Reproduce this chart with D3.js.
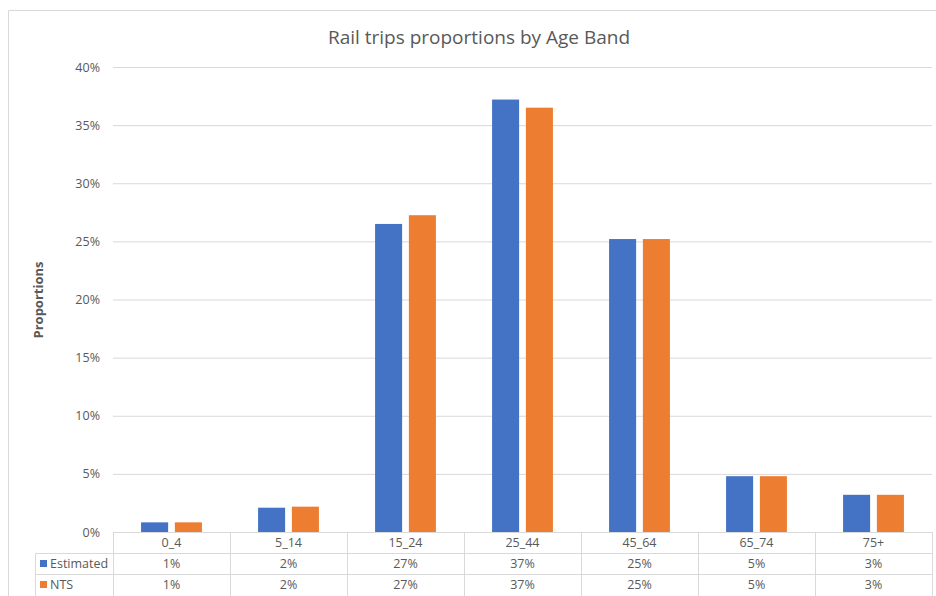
<!DOCTYPE html>
<html lang="en">
<head>
	<meta charset="UTF-8">
	<title>Rail trips proportions by Age Band</title>
	<style>
		body { margin: 0; background: #fff; }
		text { font-family: "Open Sans", "Noto Sans", sans-serif; fill: #595959; }
	</style>
</head>
<body>
	<svg id="chart" width="936" height="596"></svg>
<script src="https://cdn.jsdelivr.net/npm/d3@7"></script>
<script>
	// data
	let bands = ["0_4", "5_14", "15_24", "25_44", "45_64", "65_74", "75+"];
	let seriesNames = ["Estimated", "NTS"];
	let estimated = [0.0083, 0.0209, 0.265, 0.372, 0.252, 0.048, 0.032];
	let nts = [0.0083, 0.0218, 0.2725, 0.365, 0.252, 0.048, 0.032];
	let colours = ["#4472c4", "#ed7d31"];
	let yTicks = [0, 0.05, 0.1, 0.15, 0.2, 0.25, 0.3, 0.35, 0.4];

	let svg = d3.select("#chart");
	let plotLeft = 113, plotRight = 932, plotTop = 67, plotBottom = 532;
	let fs = 12.5;

	// outer frame of the chart area
	svg.append("path")
		.attr("d", "M8.5,600 V10.5 H940")
		.attr("fill", "none")
		.attr("stroke", "#d9d9d9");

	let x = d3.scaleBand().domain(bands).range([plotLeft, plotRight]).paddingInner(0.48).paddingOuter(0.24);
	let xs = d3.scaleBand().domain(seriesNames).range([0, x.bandwidth()]).paddingInner(0.2);
	let y = d3.scaleLinear().domain([0, 0.4]).range([plotBottom, plotTop]);
	let cell = d3.scaleBand().domain(bands).range([plotLeft, plotRight]);

	// grid lines + tick labels
	let yAxis = d3.axisLeft(y).tickValues(yTicks).tickFormat(d3.format(".0%"))
		.tickSize(-(plotRight - plotLeft)).tickPadding(13);
	let ga = svg.append("g").attr("transform", `translate(${plotLeft},0)`).call(yAxis);
	ga.select(".domain").remove();
	ga.selectAll(".tick line").attr("stroke", "#d9d9d9").attr("stroke-width", 1);
	ga.selectAll(".tick text").attr("font-size", fs).attr("fill", "#595959")
		.style("font-family", "'Open Sans', sans-serif");

	// bars
	let series = [estimated, nts];
	series.forEach(function(vals, si){
		svg.append("g")
			.selectAll("rect")
			.data(vals)
			.enter()
			.append("rect")
			.attr("x", (d, i) => x(bands[i]) + xs(seriesNames[si]))
			.attr("y", d => y(d))
			.attr("width", xs.bandwidth())
			.attr("height", d => y(0) - y(d))
			.attr("fill", colours[si]);
	});

	// data table under the axis
	let rowTop = [532, 553, 574];
	let rowBottom = 600;
	let tbl = svg.append("g").attr("stroke", "#d9d9d9").attr("fill", "none");
	tbl.append("line").attr("x1", plotLeft).attr("x2", plotRight).attr("y1", rowTop[0] + 0.5).attr("y2", rowTop[0] + 0.5);
	tbl.append("line").attr("x1", 35).attr("x2", plotRight).attr("y1", rowTop[1] + 0.5).attr("y2", rowTop[1] + 0.5);
	tbl.append("line").attr("x1", 35).attr("x2", plotRight).attr("y1", rowTop[2] + 0.5).attr("y2", rowTop[2] + 0.5);
	tbl.append("line").attr("x1", 35.5).attr("x2", 35.5).attr("y1", rowTop[1]).attr("y2", rowBottom);
	tbl.selectAll("line.v")
		.data(bands.concat(["end"]))
		.enter()
		.append("line")
		.attr("class", "v")
		.attr("x1", (d, i) => Math.round(plotLeft + i * cell.bandwidth()) + 0.5)
		.attr("x2", (d, i) => Math.round(plotLeft + i * cell.bandwidth()) + 0.5)
		.attr("y1", rowTop[0])
		.attr("y2", rowBottom);

	svg.append("g").selectAll("text")
		.data(bands)
		.enter()
		.append("text")
		.attr("x", d => cell(d) + cell.bandwidth() / 2)
		.attr("y", rowTop[0] + 15)
		.attr("text-anchor", "middle")
		.attr("font-size", fs)
		.text(d => d);

	let pct = d3.format(".0%");
	series.forEach(function(vals, si){
		let g = svg.append("g");
		g.selectAll("text")
			.data(vals)
			.enter()
			.append("text")
			.attr("x", (d, i) => cell(bands[i]) + cell.bandwidth() / 2)
			.attr("y", rowTop[si + 1] + 15)
			.attr("text-anchor", "middle")
			.attr("font-size", fs)
			.text(d => pct(d));
		g.append("rect")
			.attr("x", 40).attr("y", rowTop[si + 1] + 7)
			.attr("width", 7).attr("height", 7)
			.attr("fill", colours[si]);
		g.append("text")
			.attr("x", 50).attr("y", rowTop[si + 1] + 15)
			.attr("font-size", fs)
			.text(seriesNames[si]);
	});

	// titles
	svg.append("text")
		.attr("x", 479).attr("y", 44)
		.attr("text-anchor", "middle")
		.attr("font-size", 19)
		.text("Rail trips proportions by Age Band");

	svg.append("text")
		.attr("transform", "translate(43,300) rotate(-90)")
		.attr("text-anchor", "middle")
		.attr("font-size", 13)
		.attr("font-weight", "bold")
		.text("Proportions");
</script>
</body>
</html>
